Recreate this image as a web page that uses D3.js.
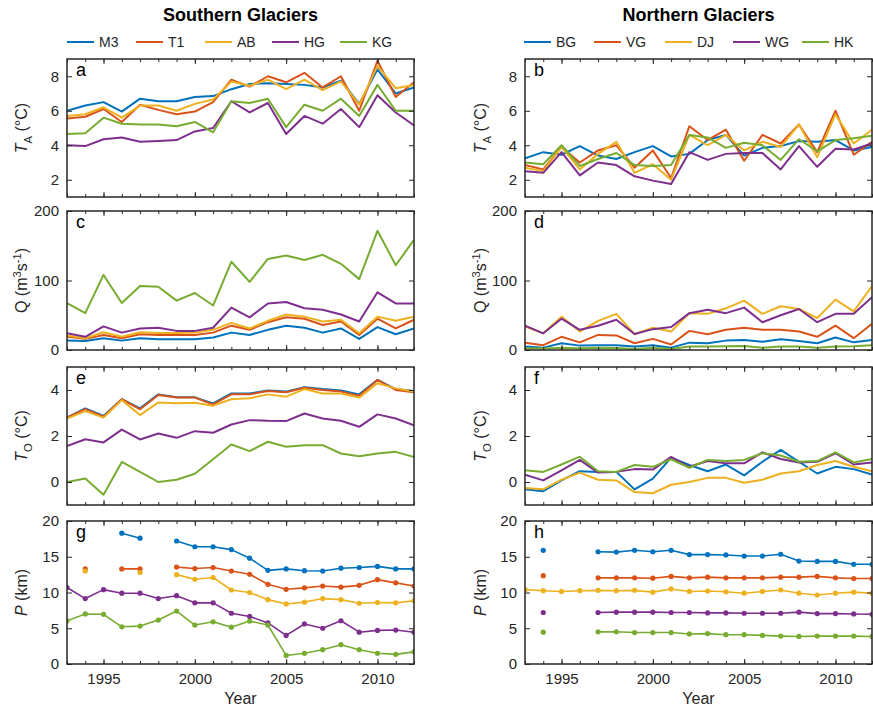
<!DOCTYPE html>
<html><head><meta charset="utf-8">
<script src="https://cdn.jsdelivr.net/npm/d3@7"></script>
<style>
body{margin:0;background:#fff;}
svg{display:block;font-family:"Liberation Sans",Arial,Helvetica,sans-serif;}
</style></head><body>
<svg id="chart" width="873" height="713"></svg>
<script>
// ---------- data ----------
const years = [1993,1994,1995,1996,1997,1998,1999,2000,2001,2002,2003,2004,2005,2006,2007,2008,2009,2010,2011,2012];
const majorYears = [1995,2000,2005,2010];
const southNames = ["M3","T1","AB","HG","KG"];
const northNames = ["BG","VG","DJ","WG","HK"];
const seriesColors = ["#0072BD","#D95319","#EDB120","#7E2F8E","#77AC30"];
const taTicks = [2,4,6,8];
const qTicks = [0,100,200];
const toTicks = [0,2,4];
const pTicks = [0,5,10,15,20];

// Air temperature T_A (°C) - southern
const ta_M3 = [6.0,6.3,6.5,5.95,6.7,6.55,6.55,6.8,6.85,7.25,7.55,7.6,7.55,7.5,7.35,7.75,6.4,8.4,7.0,7.35];
const ta_T1 = [5.55,5.65,6.1,5.35,6.35,6.05,5.8,5.95,6.5,7.8,7.4,8.0,7.65,8.2,7.35,8.0,6.0,8.9,6.8,7.65];
const ta_AB = [5.7,5.8,6.2,5.6,6.3,6.3,6.0,6.4,6.65,7.7,7.45,7.8,7.25,7.8,7.2,7.7,6.35,8.6,7.3,7.5];
const ta_HG = [4.0,3.95,4.35,4.45,4.2,4.25,4.3,4.8,5.0,6.55,5.9,6.45,4.65,5.7,5.25,6.1,5.05,6.9,5.9,5.15];
const ta_KG = [4.65,4.7,5.6,5.25,5.2,5.2,5.1,5.35,4.75,6.55,6.45,6.7,5.05,6.35,6.0,6.7,5.7,7.5,6.0,6.0];
// northern
const ta_BG = [3.25,3.6,3.45,3.95,3.4,3.2,3.6,3.95,3.35,3.5,4.3,4.6,3.4,3.85,3.95,4.25,4.2,4.3,3.7,3.9];
const ta_VG = [2.85,2.6,3.9,3.0,3.7,4.0,2.7,3.7,2.1,5.1,4.3,4.9,3.1,4.6,4.1,5.2,3.6,6.0,3.45,4.2];
const ta_DJ = [2.7,2.5,3.9,2.6,3.5,4.2,2.4,2.9,2.0,4.6,4.0,4.6,3.7,4.2,3.9,5.2,3.3,5.8,4.1,4.9];
const ta_WG = [2.5,2.4,3.6,2.25,3.0,2.85,2.2,1.95,1.75,3.6,3.15,3.5,3.55,3.55,2.6,3.95,2.75,3.8,3.75,4.1];
const ta_HK = [3.0,2.9,4.0,2.8,3.2,3.55,2.85,2.8,2.85,4.6,4.45,3.85,4.15,4.0,3.15,4.35,3.65,4.3,4.4,4.55];

// Discharge Q (m3 s-1) - southern
const q_M3 = [13.5,13,17,13.5,17,15.5,15.5,15.5,18,25,21.7,29,35,32,25,31,16,33,22.7,31];
const q_T1 = [19,16,21.7,17,22.7,21.7,21.7,21.7,25,35,29,40,47,45,36,41,21.7,45,31,43.5];
const q_AB = [21,17,25.6,19,25.6,24.6,24.6,25,29,39,31,42,51,48,41,43.5,24,48,42,48];
const q_HG = [24,19,34,25,31,32,27.5,27.5,32,61,47,67,69,60,58,51,41,83,67,67];
const q_KG = [67.6,53,108,67.6,92,91,71,82,64,127,98,131,136,129.5,137,124,102,171.5,122,158.5];
// northern
const q_BG = [5,3.4,9.7,6.3,7,7,5,7,3.4,10.6,9.7,13.5,14.5,12,15.5,13,9.7,18,11,14.5];
const q_VG = [10.6,7,19,11,21.7,21,9.7,16,8,27.5,22.7,29,32,29,29,26.6,19,35,17,37.7];
const q_DJ = [34,24,48,26.6,42,52,22.7,32,26.6,53,52,60,71,52,63,59,46,72.5,55.5,92];
const q_WG = [35,24,45,29,35,43.5,23,30,33,53,58,53,61,40,50,59,40,52,52,76];
const q_HK = [2.4,2,3.4,2.4,3.4,3,1.5,3.4,1.5,5,5,5.3,5.8,3.4,5,5,3.4,5,5.3,7];

// Ocean temperature T_O (°C) - southern
const to_M3 = [2.8,3.2,2.87,3.6,3.2,3.81,3.68,3.68,3.42,3.85,3.85,3.98,3.93,4.12,4.04,3.98,3.81,4.44,4.04,3.96];
const to_T1 = [2.8,3.17,2.84,3.6,3.16,3.78,3.67,3.67,3.37,3.81,3.81,3.96,3.9,4.1,4.0,3.93,3.75,4.44,4.0,3.9];
const to_AB = [2.76,3.08,2.8,3.56,2.91,3.46,3.42,3.45,3.32,3.6,3.64,3.81,3.71,4.04,3.85,3.85,3.67,4.29,4.07,3.93];
const to_HG = [1.56,1.86,1.72,2.28,1.85,2.11,1.92,2.21,2.14,2.5,2.69,2.66,2.65,2.98,2.76,2.66,2.4,2.94,2.76,2.47];
const to_KG = [0,0.15,-0.55,0.87,0.44,0,0.1,0.36,0.99,1.63,1.34,1.75,1.53,1.6,1.6,1.24,1.12,1.24,1.31,1.09];
// northern (no VG series drawn)
const to_BG = [-0.32,-0.4,0.07,0.47,0.44,0.44,-0.32,0.15,1.06,0.74,0.47,0.76,0.29,0.88,1.4,0.88,0.37,0.66,0.56,0.32];
const to_VG = [];
const to_DJ = [-0.26,-0.32,0.1,0.41,0.1,0.07,-0.44,-0.49,-0.12,0,0.18,0.18,-0.03,0.1,0.37,0.47,0.74,0.91,0.66,0.47];
const to_WG = [0.32,0.07,0.51,0.96,0.41,0.44,0.56,0.54,1.09,0.66,0.91,0.81,0.81,1.29,1.0,0.85,0.88,1.25,0.76,0.85];
const to_HK = [0.51,0.44,0.76,1.1,0.47,0.44,0.74,0.66,0.99,0.62,0.96,0.91,0.96,1.25,1.15,0.88,0.91,1.29,0.85,1.0];

// Distance P (km) - southern
const p_M3 = [null,null,null,18.3,17.6,null,17.2,16.4,16.4,16.0,14.8,13.1,13.3,13.05,13.0,13.4,13.5,13.65,13.3,13.3];
const p_T1 = [null,13.3,null,13.3,13.3,null,13.55,13.35,13.5,13.0,12.55,11.15,10.45,10.65,10.9,10.75,11.0,11.8,11.35,10.9];
const p_AB = [null,13.0,null,null,12.8,null,12.5,11.85,12.1,10.35,10.0,9.0,8.4,8.65,9.15,9.0,8.5,8.6,8.55,8.85];
const p_HG = [10.7,9.15,10.4,9.9,9.9,9.15,9.55,8.55,8.55,7.1,6.65,5.75,4.0,5.6,5.0,6.05,4.45,4.7,4.75,4.45];
const p_KG = [6.05,7.0,6.95,5.2,5.3,6.15,7.4,5.45,5.9,5.15,6.0,5.45,1.2,1.5,2.0,2.7,2.0,1.5,1.35,1.7];
// northern
const p_BG = [null,15.9,null,null,15.7,15.65,15.9,15.7,15.9,15.3,15.3,15.25,15.1,15.1,15.35,14.4,14.35,14.35,13.95,13.95];
const p_VG = [null,12.35,null,null,12.05,12.05,12.05,12.0,12.25,12.05,12.15,12.05,12.05,12.05,12.15,12.15,12.25,12.05,11.95,11.95];
const p_DJ = [10.4,10.25,10.15,10.25,10.3,10.25,10.3,10.05,10.5,10.15,10.2,10.1,9.9,10.15,10.35,9.9,9.65,9.9,10.05,9.9];
const p_WG = [null,7.2,null,null,7.2,7.25,7.25,7.25,7.2,7.2,7.15,7.15,7.1,7.1,7.1,7.25,7.05,7.05,7.0,6.95];
const p_HK = [null,4.45,null,null,4.5,4.5,4.4,4.4,4.4,4.2,4.25,4.1,4.1,4.0,3.9,3.85,3.9,3.9,3.9,3.85];

// ---------- layout ----------
const svg = d3.select("#chart");
const ink = "#262626";
const cols = [
  {x0:67, x1:414, names:southNames, title:"Southern Glaciers", letters:["a","c","e","g"],
   series:[[ta_M3,ta_T1,ta_AB,ta_HG,ta_KG],[q_M3,q_T1,q_AB,q_HG,q_KG],[to_M3,to_T1,to_AB,to_HG,to_KG],[p_M3,p_T1,p_AB,p_HG,p_KG]],
   ylabX:27, legendX:[67,136,205,272,340]},
  {x0:525, x1:872, names:northNames, title:"Northern Glaciers", letters:["b","d","f","h"],
   series:[[ta_BG,ta_VG,ta_DJ,ta_WG,ta_HK],[q_BG,q_VG,q_DJ,q_WG,q_HK],[to_BG,to_VG,to_DJ,to_WG,to_HK],[p_BG,p_VG,p_DJ,p_WG,p_HK]],
   ylabX:486, legendX:[524,594,665,733,802]}
];
const rows = [
  {y0:59, y1:197, domain:[1,9], ticks:taTicks, label:[{t:"T",i:1},{t:"A",s:"sub"},{t:" (°C)"}], markers:false},
  {y0:211, y1:350, domain:[0,200], ticks:qTicks, label:[{t:"Q (m"},{t:"3",s:"sup"},{t:"s"},{t:"-1",s:"sup"},{t:")"}], markers:false},
  {y0:367, y1:505, domain:[-1,5], ticks:toTicks, label:[{t:"T",i:1},{t:"O",s:"sub"},{t:" (°C)"}], markers:false},
  {y0:521, y1:664, domain:[0,20], ticks:pTicks, label:[{t:"P",i:1},{t:" (km)"}], markers:true}
];

function richText(sel, parts, fs){
  let shift = 0;
  parts.forEach(p=>{
    const t = sel.append("tspan").text(p.t);
    const target = p.s==="sub" ? 0.3 : p.s==="sup" ? -0.4 : 0;
    const dy = (target - shift) * fs;
    if (dy) t.attr("dy", dy);
    shift = target;
    if (p.s) t.attr("font-size", fs*0.7);
    if (p.i) t.attr("font-style","italic");
  });
}

cols.forEach((c, ci)=>{
  const x = d3.scaleLinear().domain([1993,2012]).range([c.x0, c.x1]);
  const cx = (c.x0 + c.x1)/2;

  // title
  svg.append("text").attr("x", cx).attr("y", 21).attr("text-anchor","middle")
    .attr("font-weight","bold").attr("font-size",18).attr("fill","#000").text(c.title);

  // legend
  c.names.forEach((n,k)=>{
    const lx = c.legendX[k];
    svg.append("line").attr("x1",lx).attr("x2",lx+27).attr("y1",42).attr("y2",42)
      .attr("stroke",seriesColors[k]).attr("stroke-width",2);
    svg.append("text").attr("x",lx+32).attr("y",47).attr("font-size",14).attr("fill",ink).text(n);
  });

  rows.forEach((r, ri)=>{
    const y = d3.scaleLinear().domain(r.domain).range([r.y1, r.y0]);
    const g = svg.append("g");
    const clipId = `clip${ci}${ri}`;
    g.append("clipPath").attr("id",clipId).append("rect")
      .attr("x",c.x0).attr("y",r.y0).attr("width",c.x1-c.x0).attr("height",r.y1-r.y0);

    // series
    const lineGen = d3.line().defined(d=>d.v!=null).x(d=>x(d.yr)).y(d=>y(d.v));
    const plot = g.append("g").attr("clip-path",`url(#${clipId})`);
    c.series[ri].forEach((arr,k)=>{
      if (!arr.length) return;
      const pts = arr.map((v,j)=>({yr:years[j], v:v}));
      plot.append("path").datum(pts).attr("d",lineGen).attr("fill","none")
        .attr("stroke",seriesColors[k]).attr("stroke-width", r.markers?1.6:2)
        .attr("stroke-linejoin","round");
      if (r.markers){
        plot.selectAll(null).data(pts.filter(d=>d.v!=null)).join("circle")
          .attr("cx",d=>x(d.yr)).attr("cy",d=>y(d.v)).attr("r",2.6)
          .attr("fill",seriesColors[k]);
      }
    });

    // axes
    const isBottom = ri === rows.length-1;
    const style = a => {
      a.select(".domain").remove();
      a.selectAll("line").attr("stroke",ink).attr("stroke-width",1);
      a.selectAll("text").attr("fill",ink).attr("font-size",15)
        .attr("font-family",'"Liberation Sans",Arial,Helvetica,sans-serif');
    };
    g.append("g").attr("transform",`translate(0,${r.y1})`)
      .call(d3.axisBottom(x).tickValues(years).tickSize(-3).tickFormat("")).call(style);
    g.append("g").attr("transform",`translate(0,${r.y1})`)
      .call(d3.axisBottom(x).tickValues(majorYears).tickSize(-5).tickPadding(9)
        .tickFormat(isBottom ? d3.format("d") : "")).call(style);
    g.append("g").attr("transform",`translate(0,${r.y0})`)
      .call(d3.axisTop(x).tickValues(years).tickSize(-3).tickFormat("")).call(style);
    g.append("g").attr("transform",`translate(0,${r.y0})`)
      .call(d3.axisTop(x).tickValues(majorYears).tickSize(-5).tickFormat("")).call(style);
    g.append("g").attr("transform",`translate(${c.x0},0)`)
      .call(d3.axisLeft(y).tickValues(r.ticks).tickSize(-5).tickPadding(8).tickFormat(d3.format("d"))).call(style);
    g.append("g").attr("transform",`translate(${c.x1},0)`)
      .call(d3.axisRight(y).tickValues(r.ticks).tickSize(-5).tickFormat("")).call(style);

    // frame
    g.append("rect").attr("x",c.x0).attr("y",r.y0).attr("width",c.x1-c.x0).attr("height",r.y1-r.y0)
      .attr("fill","none").attr("stroke",ink).attr("stroke-width",1.5);

    // panel letter
    g.append("text").attr("x",c.x0+9).attr("y",r.y0+17).attr("font-size",18).attr("fill","#000")
      .text(c.letters[ri]);

    // y label
    const yc = (r.y0 + r.y1)/2;
    const lab = g.append("text").attr("transform",`translate(${c.ylabX},${yc}) rotate(-90)`)
      .attr("text-anchor","middle").attr("font-size",16).attr("fill",ink);
    richText(lab, r.label, 16);

    if (isBottom){
      g.append("text").attr("x",cx).attr("y",704).attr("text-anchor","middle")
        .attr("font-size",16).attr("fill",ink).text("Year");
    }
  });
});
</script>
</body></html>
